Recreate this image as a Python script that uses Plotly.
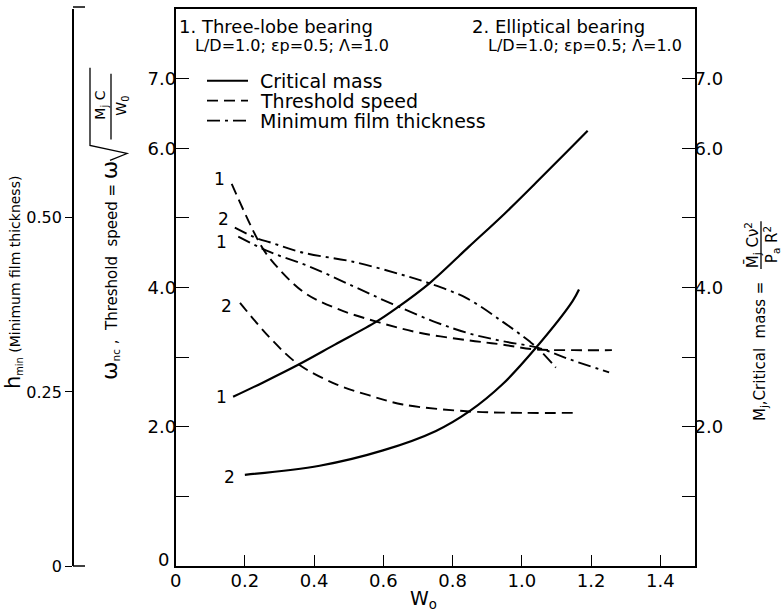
import plotly.graph_objects as go

# ---- data (W_o on x; threshold speed / critical mass on 0-8 scale; h_min on 0-0.8 scale) ----
cm1_x = [0.166, 0.25, 0.354, 0.46, 0.58, 0.637, 0.733, 0.848, 0.95, 1.05, 1.13, 1.19]
cm1_y = [2.43, 2.63, 2.89, 3.18, 3.51, 3.70, 4.06, 4.59, 5.06, 5.55, 5.95, 6.25]
cm2_x = [0.20, 0.416, 0.599, 0.752, 0.848, 0.944, 1.04, 1.146, 1.165]
cm2_y = [1.31, 1.44, 1.66, 1.94, 2.22, 2.61, 3.13, 3.80, 3.97]

ts1_x = [0.162, 0.238, 0.272, 0.368, 0.464, 0.58, 0.704, 0.848, 0.944, 1.04, 1.15, 1.26]
ts1_y = [5.49, 4.68, 4.42, 3.94, 3.70, 3.51, 3.35, 3.24, 3.18, 3.11, 3.10, 3.10]
ts2_x = [0.186, 0.272, 0.354, 0.464, 0.56, 0.656, 0.848, 1.0, 1.16]
ts2_y = [3.78, 3.28, 2.90, 2.61, 2.45, 2.32, 2.22, 2.20, 2.20]

hm1_x = [0.181, 0.272, 0.387, 0.512, 0.627, 0.752, 0.848, 0.944, 1.05, 1.137, 1.252]
hm1_y = [0.473, 0.451, 0.430, 0.402, 0.376, 0.350, 0.334, 0.323, 0.313, 0.297, 0.278]
hm2_x = [0.171, 0.238, 0.272, 0.368, 0.512, 0.656, 0.733, 0.839, 0.944, 1.021, 1.05, 1.098]
hm2_y = [0.486, 0.470, 0.465, 0.450, 0.437, 0.418, 0.406, 0.385, 0.351, 0.323, 0.311, 0.285]

x_ticks = [0, 0.2, 0.4, 0.6, 0.8, 1.0, 1.2, 1.4]
x_ticktext = ["0", "0.2", "0.4", "0.6", "0.8", "1.0", "1.2", "1.4"]
left_ticks = [0, 1, 2, 3, 4, 5, 6, 7]
left_ticktext = ["", "", "2.0", "", "4.0", "", "6.0", "7.0"]
right_ticks = [1, 2, 3, 4, 5, 6, 7]
right_ticktext = ["", "2.0", "", "4.0", "", "6.0", "7.0"]
h_ticks = [0, 0.25, 0.50]
h_ticktext = ["0", "0.25", "0.50"]

# curve number labels: (text, x, y)
curve_labels = [
    ("1", 0.126, 5.56), ("2", 0.137, 4.98), ("1", 0.133, 4.66),
    ("2", 0.147, 3.73), ("1", 0.133, 2.43), ("2", 0.157, 1.28),
]

FONT = "DejaVu Sans"
W, H = 781, 614
ML, MR, MT, MB = 60, 86, 7, 48
PX0, PX1 = ML, W - MR
PY0, PY1 = MT, H - MB


def px(x):
    return (x - PX0) / (PX1 - PX0)


def py(y):
    return (PY1 - y) / (PY1 - PY0)


def label(text, x, y, size, angle=0, xa="center", ya="middle"):
    return dict(text=text, x=px(x), y=py(y), xref="paper", yref="paper", textangle=angle,
                xanchor=xa, yanchor=ya, showarrow=False,
                font=dict(family=FONT, size=size, color="black"))


SOLID = dict(color="black", width=2.2)
DASH = dict(color="black", width=1.9, dash="11px,6px")
DASHDOT = dict(color="black", width=1.9, dash="13px,5px,3px,5px")

fig = go.Figure()
for xs, ys in [(cm1_x, cm1_y), (cm2_x, cm2_y)]:
    fig.add_trace(go.Scatter(x=xs, y=ys, mode="lines", line=dict(SOLID, shape="spline"),
                             yaxis="y2", showlegend=False, hoverinfo="skip"))
for xs, ys in [(ts1_x, ts1_y), (ts2_x, ts2_y)]:
    fig.add_trace(go.Scatter(x=xs, y=ys, mode="lines", line=dict(DASH, shape="spline"),
                             yaxis="y", showlegend=False, hoverinfo="skip"))
for xs, ys in [(hm1_x, hm1_y), (hm2_x, hm2_y)]:
    fig.add_trace(go.Scatter(x=xs, y=ys, mode="lines", line=dict(DASHDOT, shape="spline"),
                             yaxis="y3", showlegend=False, hoverinfo="skip"))

annotations = []
shapes = []

for t, x, y in curve_labels:
    annotations.append(dict(text=t, x=x, y=y, xref="x", yref="y", showarrow=False,
                            xanchor="center", yanchor="middle",
                            font=dict(family=FONT, size=17, color="black")))

# origin label of the left scale, set slightly above the corner
annotations.append(label("0", 163, 559, 18))

# bearing descriptions
annotations.append(label("1. Three-lobe bearing", 177, 25, 18, xa="left"))
annotations.append(label("L/D=1.0; εp=0.5; Λ=1.0", 193, 44, 16, xa="left"))
annotations.append(label("2. Elliptical bearing", 470, 25, 18, xa="left"))
annotations.append(label("L/D=1.0; εp=0.5; Λ=1.0", 486, 44, 16, xa="left"))

# key
for (name, style), y in zip([("Critical mass", SOLID), ("Threshold speed", DASH),
                             ("Minimum film thickness", DASHDOT)], [79, 99, 119]):
    shapes.append(dict(type="line", xref="paper", yref="paper", x0=px(207), x1=px(248),
                       y0=py(y), y1=py(y), line=style))
    annotations.append(label(name, 258, y, 19, xa="left"))

# x axis title
annotations.append(label("W<sub>o</sub>", 423, 600, 19))

# h_min axis title
annotations.append(label("<span style='font-size:21px'>h</span><sub>min</sub> (Minimum film thickness)",
                         13, 282, 14, angle=-90))

# left axis title: omega_nc, Threshold speed = omega * sqrt(Mj C / W0)
annotations.append(label("<span style='font-size:22px'>ω</span><sub>nc</sub> ,  Threshold  speed = "
                         "<span style='font-size:22px'>ω</span>", 110, 158, 15, angle=-90, ya="top"))
annotations.append(label("M<sub>j</sub> C", 101, 104, 14, angle=-90))
annotations.append(label("W<sub>0</sub>", 122, 104, 14, angle=-90))
shapes.append(dict(type="line", xref="paper", yref="paper", x0=px(111), x1=px(111),
                   y0=py(138), y1=py(72), line=dict(color="black", width=1.3)))
shapes.append(dict(type="path", xref="paper", yref="paper",
                   path=f"M {px(110)},{py(159)} L {px(127)},{py(152)} L {px(90)},{py(144)} L {px(90)},{py(66)}",
                   line=dict(color="black", width=1.3)))

# right axis title: Mj, Critical mass = Mj C nu^2 / (Pa R^2)
annotations.append(label("M<sub>j</sub>,Critical  mass = ", 760, 274, 15, angle=-90, ya="top"))
annotations.append(label("M\u0304<sub>j</sub> Cν<sup>2</sup>", 752, 244, 15, angle=-90))
annotations.append(label("P<sub>a</sub> R<sup>2</sup>", 771, 244, 15, angle=-90))
shapes.append(dict(type="line", xref="paper", yref="paper", x0=px(761), x1=px(761),
                   y0=py(268), y1=py(220), line=dict(color="black", width=1.3)))

# bracket ends on the h_min axis
for y in (PY0 - 2, PY1):
    shapes.append(dict(type="line", xref="paper", yref="paper", x0=px(73), x1=px(85),
                       y0=py(y), y1=py(y), line=dict(color="black", width=1.5)))

tickfont = dict(family=FONT, size=18, color="black")
fig.update_layout(
    width=W, height=H,
    margin=dict(l=ML, r=MR, t=MT, b=MB),
    paper_bgcolor="white", plot_bgcolor="white",
    showlegend=False,
    xaxis=dict(domain=[px(175.6), 1], range=[0, 1.5], tickvals=x_ticks, ticktext=x_ticktext,
               ticks="inside", ticklen=11, tickwidth=1.3, tickcolor="black", ticklabelstandoff=-3,
               showline=True, linecolor="black", linewidth=1.8, mirror=True,
               showgrid=False, zeroline=False, tickfont=tickfont),
    yaxis=dict(range=[0, 8], tickvals=left_ticks, ticktext=left_ticktext, ticks="inside",
               ticklen=13, tickwidth=1.3, tickcolor="black", ticklabelstandoff=-6,
               showline=True, linecolor="black",
               linewidth=1.8, showgrid=False, zeroline=False, tickfont=tickfont),
    yaxis2=dict(range=[0, 8], overlaying="y", side="right", anchor="x", tickvals=right_ticks,
                ticktext=right_ticktext, ticks="inside", ticklen=13, tickwidth=1.3,
                tickcolor="black", ticklabelstandoff=-6, showline=True, linecolor="black",
                linewidth=1.8, showgrid=False, zeroline=False, tickfont=tickfont),
    yaxis3=dict(range=[0, 0.8], overlaying="y", side="left", anchor="free", position=px(73),
                tickvals=h_ticks, ticktext=h_ticktext, ticks="outside", ticklen=7, tickwidth=1.3,
                tickcolor="black", showline=True, linecolor="black", linewidth=1.8,
                showgrid=False, zeroline=False, tickfont=dict(family=FONT, size=16, color="black")),
    annotations=annotations,
    shapes=shapes,
)

fig.write_html("out.html")
